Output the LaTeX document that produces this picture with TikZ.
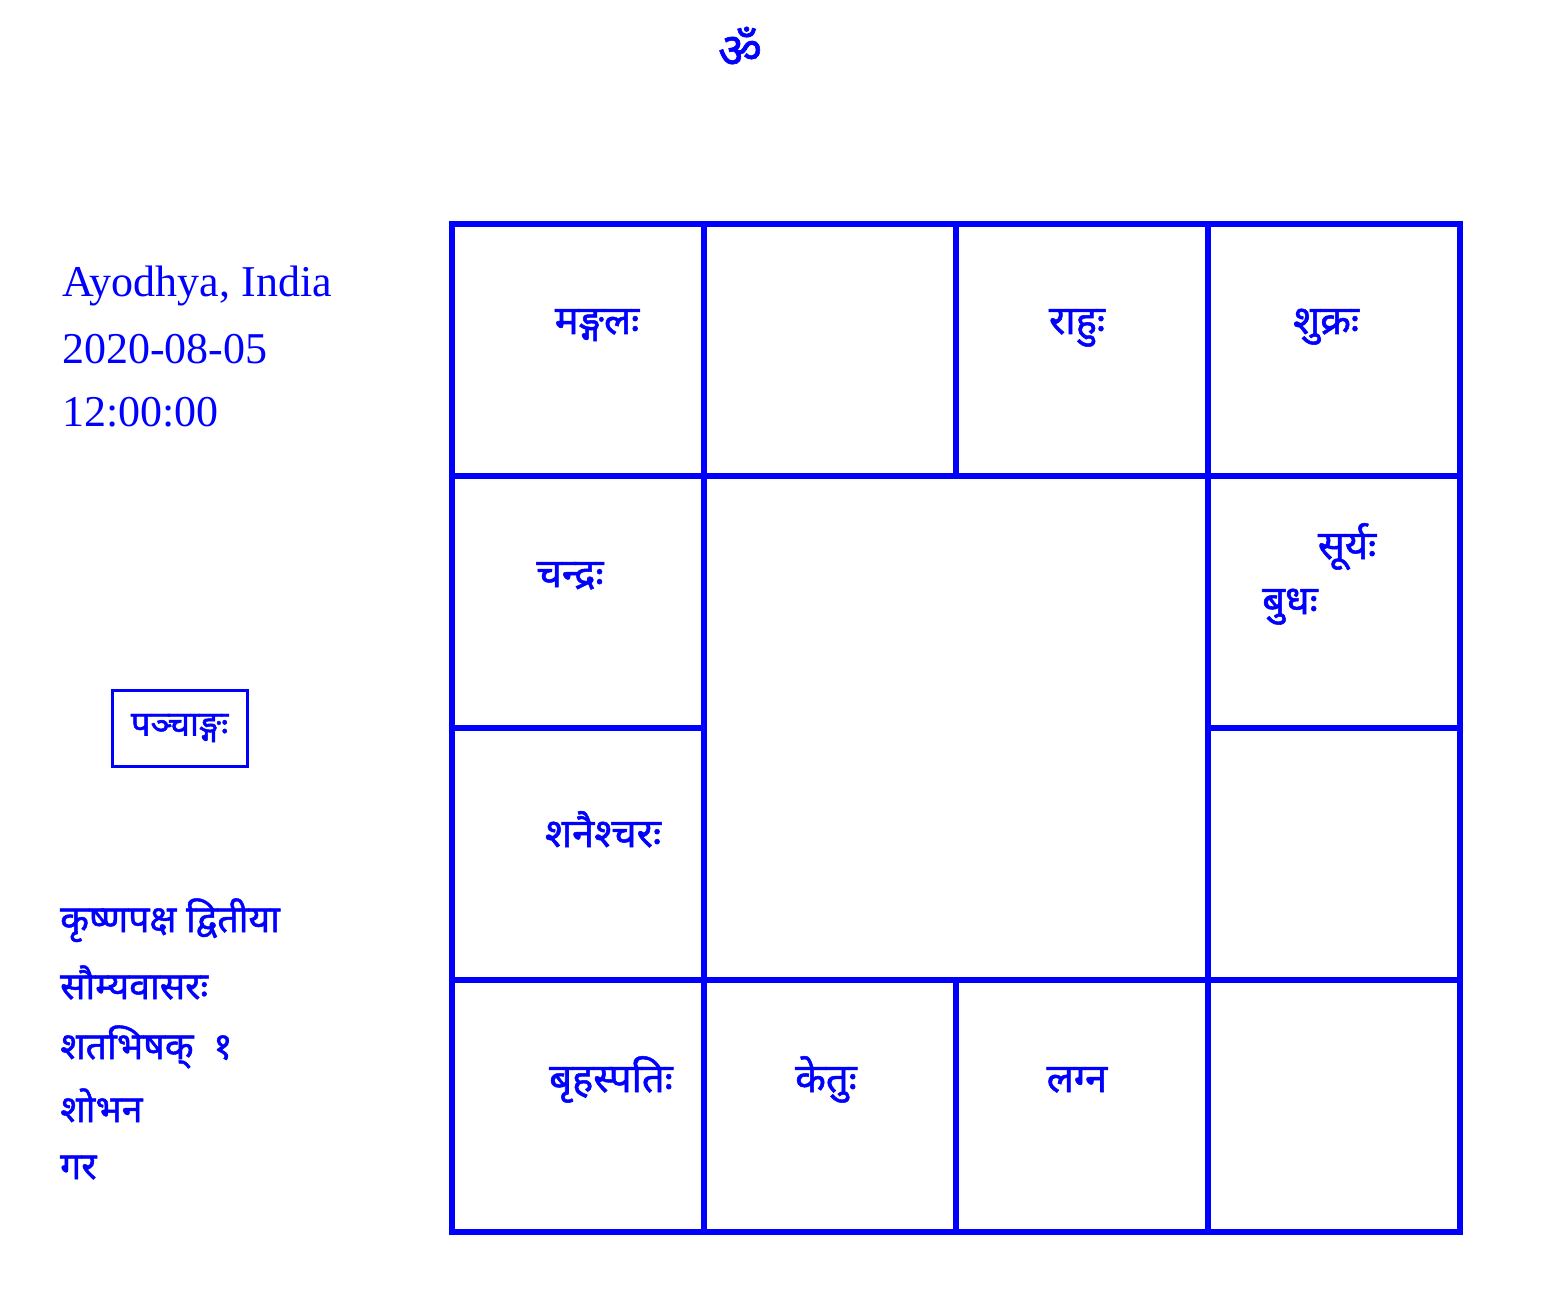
\documentclass[tikz,border=0pt]{standalone}
\usepackage{fontspec}
\setmainfont{Liberation Serif}
\newfontfamily\dev[Script=Devanagari, FakeBold=1.3]{Noto Sans}
\definecolor{kblue}{RGB}{0,0,255}
\begin{document}
\begin{tikzpicture}[x=1pt,y=-1pt,
  every node/.style={text=kblue, inner sep=0pt},
  grid/.style={draw=kblue, line width=6pt, line cap=rect},
  latin/.style={font=\fontsize{44}{50}\selectfont, anchor=base west},
  devtext/.style={font=\dev\fontsize{40}{46}\selectfont, anchor=base},
  devleft/.style={font=\dev\fontsize{37.5}{44}\selectfont, anchor=base west},
  panchbox/.style={draw=kblue, line width=3pt, minimum width=135pt, minimum height=76pt, font=\dev\fontsize{35}{40}\selectfont}]
\useasboundingbox (0,0) rectangle (1541,1313);
% om
\node[font=\dev\fontsize{48}{54}\selectfont] (om) at (740,47) {ॐ};
% grid
\draw[grid] (452,224) rectangle (1460,1232);
\draw[grid] (704,224) -- (704,1232);
\draw[grid] (1208,224) -- (1208,1232);
\draw[grid] (956,224) -- (956,476);
\draw[grid] (956,980) -- (956,1232);
\draw[grid] (452,476) -- (1460,476);
\draw[grid] (452,980) -- (1460,980);
\draw[grid] (452,728) -- (704,728);
\draw[grid] (1208,728) -- (1460,728);
% planets
\node[devtext] (mangala) at (597,334) {मङ्गलः};
\node[devtext] (rahu) at (1077,334) {राहुः};
\node[devtext] (shukra) at (1326,334) {शुक्रः};
\node[devtext] (chandra) at (570,587) {चन्द्रः};
\node[devtext] (surya) at (1347,559) {सूर्यः};
\node[devtext] (budha) at (1290,614) {बुधः};
\node[devtext] (shani) at (603,847) {शनैश्चरः};
\node[devtext] (guru) at (611,1092) {बृहस्पतिः};
\node[devtext] (ketu) at (826,1092) {केतुः};
\node[devtext] (lagna) at (1077,1092) {लग्न};
% left info
\node[latin] (place) at (62,297) {Ayodhya, India};
\node[latin] (date) at (62,363) {2020-08-05};
\node[latin] (time) at (62,426) {12:00:00};
\node[panchbox] (panch) at (179.5,728) {पञ्चाङ्गः};
\node[devleft] (tithi) at (60,932) {कृष्णपक्ष द्वितीया};
\node[devleft] (vara) at (60,999) {सौम्यवासरः};
\node[devleft] (nakshatra) at (60,1059) {शतभिषक्\ \ १};
\node[devleft] (yoga) at (60,1122) {शोभन};
\node[devleft] (karana) at (60,1179) {गर};
\end{tikzpicture}
\end{document}
